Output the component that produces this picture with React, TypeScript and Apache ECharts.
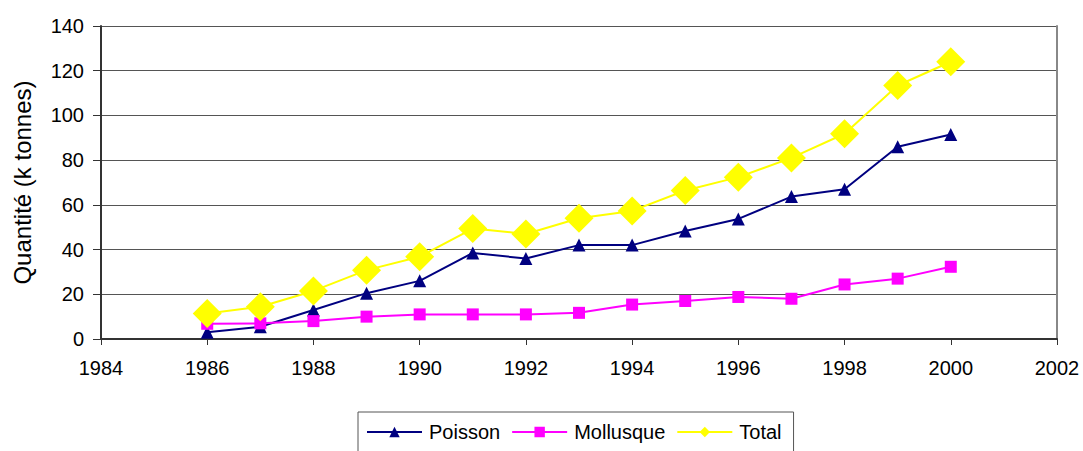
import React, { useEffect, useRef } from "react";
import * as echarts from "echarts";

const years = [1986, 1987, 1988, 1989, 1990, 1991, 1992, 1993, 1994, 1995, 1996, 1997, 1998, 1999, 2000];
const poisson = [3, 5.5, 13, 20.5, 26, 38.5, 36, 42, 42, 48.3, 53.7, 63.7, 67, 86, 91.5];
const mollusque = [6.8, 7, 8, 10, 11, 11, 11, 11.7, 15.4, 17, 18.8, 18, 24.4, 27, 32.3];
const total = [11.4, 14.4, 21.5, 30.8, 36.8, 49.4, 47, 54, 57.3, 66.4, 72.4, 81, 91.8, 113.4, 124];

const seriesNames = ["Poisson", "Mollusque", "Total"];
const yTitle = "Quantité (k tonnes)";

const FONT = '"Liberation Sans", Arial, sans-serif';

export default function App() {
  const ref = useRef<HTMLDivElement>(null);
  useEffect(() => {
    document.body.style.margin = "0";
    const chart = echarts.init(ref.current!, null, { renderer: "svg" });
    const pair = (arr: number[]) => years.map((y, i) => [y, arr[i]]);
    chart.setOption({
      animation: false,
      backgroundColor: "#ffffff",
      textStyle: { fontFamily: FONT, color: "#000" },
      grid: {
        left: 101,
        right: 26,
        top: 26,
        bottom: 451 - 339,
        containLabel: false,
        outerBoundsMode: "none",
      },
      legend: {
        data: seriesNames,
        left: 358,
        top: 412,
        orient: "horizontal",
        padding: [10, 12, 12, 8],
        itemWidth: 55,
        itemHeight: 13,
        itemGap: 11,
        borderColor: "#555",
        borderWidth: 1,
        textStyle: { fontFamily: FONT, fontSize: 20, color: "#000", padding: [0, 0, 0, 2] },
      },
      xAxis: {
        type: "value",
        min: 1984,
        max: 2002,
        interval: 2,
        axisLine: { show: true, lineStyle: { color: "#333", width: 2 } },
        axisTick: { show: true, length: 6, lineStyle: { color: "#333", width: 1 } },
        axisLabel: {
          fontFamily: FONT,
          fontSize: 20,
          color: "#000",
          margin: 19,
          formatter: (v: number) => String(v),
        },
        splitLine: { show: false },
      },
      yAxis: [
        {
          type: "value",
          min: 0,
          max: 140,
          interval: 20,
          name: yTitle,
          nameLocation: "middle",
          nameGap: 67,
          nameTextStyle: { fontFamily: FONT, fontSize: 24, color: "#000" },
          axisLine: { show: true, lineStyle: { color: "#333", width: 2 } },
          axisTick: { show: true, length: 8, lineStyle: { color: "#333", width: 1 } },
          axisLabel: { fontFamily: FONT, fontSize: 20, color: "#000", margin: 17 },
          splitLine: { show: true, lineStyle: { color: "#555", width: 1 } },
        },
        {
          type: "value",
          min: 0,
          max: 140,
          interval: 20,
          position: "right",
          axisLine: { show: true, lineStyle: { color: "#888", width: 2 } },
          axisTick: { show: false },
          axisLabel: { show: false },
          splitLine: { show: false },
        },
      ],
      series: [
        {
          name: "Poisson",
          type: "line",
          data: pair(poisson),
          symbol: "triangle",
          symbolSize: 13,
          itemStyle: { color: "#000080" },
          lineStyle: { color: "#000080", width: 2 },
        },
        {
          name: "Mollusque",
          type: "line",
          data: pair(mollusque),
          symbol: "rect",
          symbolSize: 12,
          itemStyle: { color: "#ff00ff" },
          lineStyle: { color: "#ff00ff", width: 2 },
        },
        {
          name: "Total",
          type: "line",
          data: pair(total),
          symbol: "diamond",
          symbolSize: 29,
          itemStyle: { color: "#ffff00" },
          lineStyle: { color: "#ffff00", width: 2 },
        },
      ],
    });
    return () => chart.dispose();
  }, []);
  return (
    <div
      ref={ref}
      style={{ position: "fixed", left: 0, top: 0, width: 1083, height: 451, background: "#fff" }}
    />
  );
}
